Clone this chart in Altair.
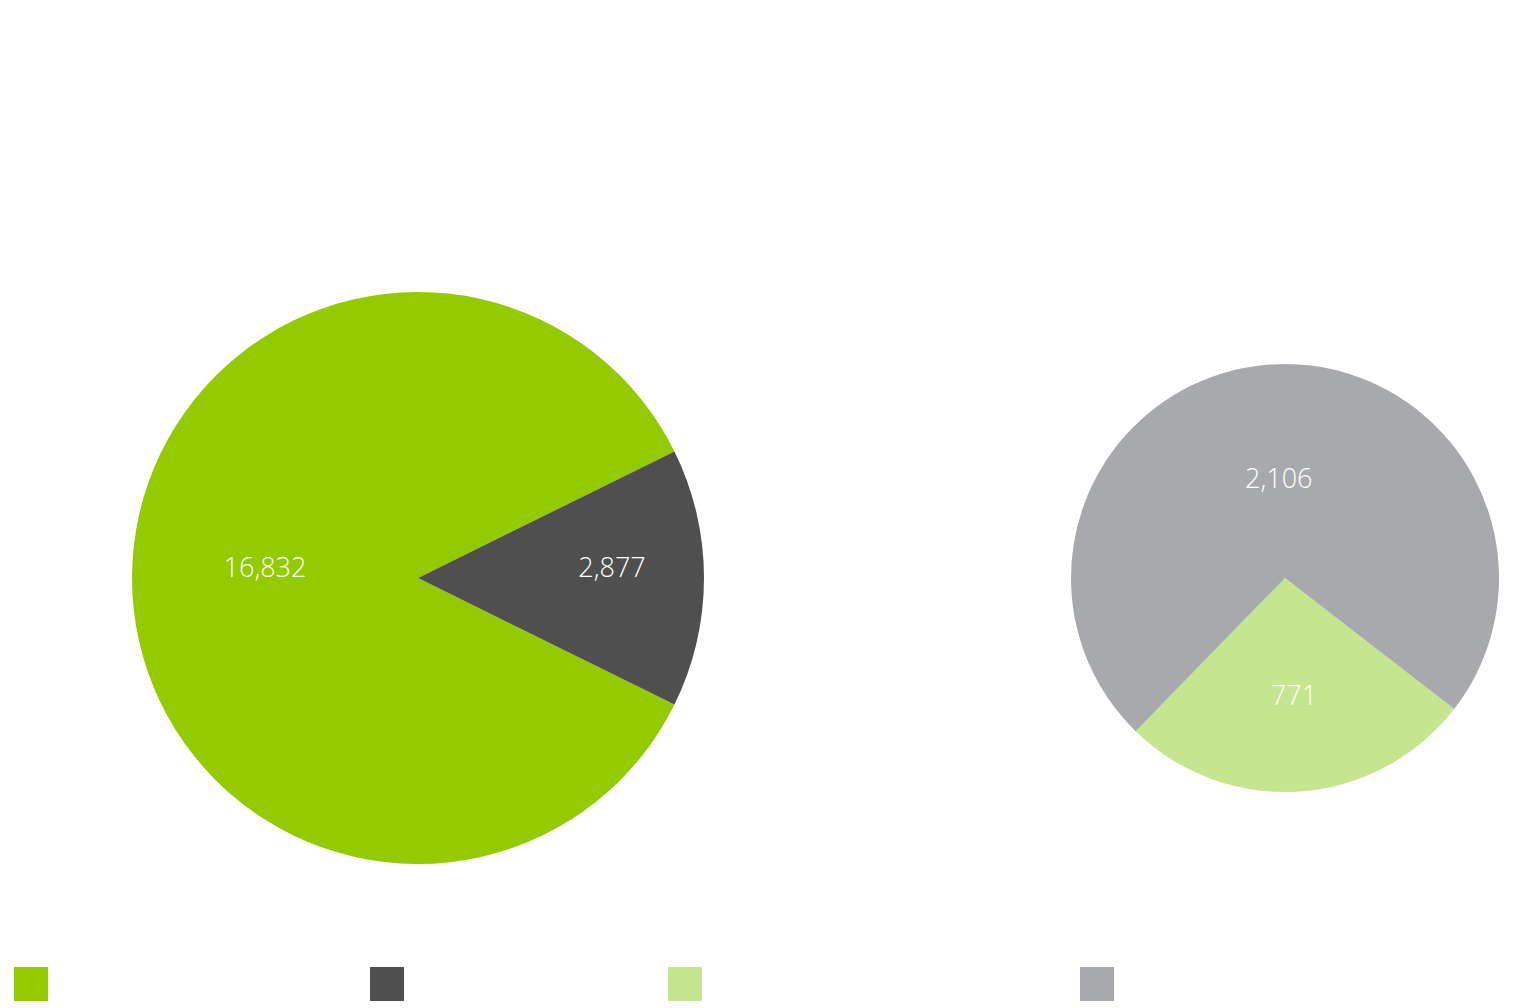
import math
import altair as alt
import pandas as pd

# Left pie
left_cats = ["Group A", "Group B"]
left_vals = [16832, 2877]
# Right pie
right_cats = ["Group C", "Group D"]
right_vals = [771, 2106]

all_cats = left_cats + right_cats
all_colors = ["#93ca00", "#4f4f4f", "#c5e58f", "#a8a9ac"]

color = alt.Color("cat:N", scale=alt.Scale(domain=all_cats, range=all_colors), legend=None)
font = "Open Sans"


def pie(cats, vals, cx, cy, radius, start, label_r):
    df = pd.DataFrame({"cat": cats, "val": vals, "idx": list(range(len(cats)))})
    total = float(sum(vals))
    scale = alt.Scale(domain=[0, total], range=[start, start + 2 * math.pi])
    # cumulative start / end / middle of each slice, in drawing order
    base = alt.Chart(df).transform_window(
        cum_end="sum(val)", sort=[alt.SortField("idx")],
        frame=[None, 0],
    ).transform_calculate(
        cum_start="datum.cum_end - datum.val",
        mid="datum.cum_end - datum.val / 2",
    )
    arcs = base.mark_arc(radius=radius, stroke=None).encode(
        theta=alt.Theta("cum_start:Q", scale=scale),
        theta2="cum_end:Q",
        color=color,
        x=alt.value(cx),
        y=alt.value(cy),
    )
    r_expr = " : ".join(
        f"datum.cat === '{c}' ? {r}" for c, r in zip(cats[:-1], label_r[:-1])
    ) + f" : {label_r[-1]}"
    labels = base.transform_calculate(r=r_expr).mark_text(
        font=font, fontSize=27, fontWeight=300, color="white",
        baseline="middle", align="center", dy=-9,
    ).encode(
        theta=alt.Theta("mid:Q", scale=scale),
        radius=alt.Radius("r:Q", scale=None),
        text=alt.Text("val:Q", format=","),
        x=alt.value(cx),
        y=alt.value(cy),
    )
    return alt.layer(arcs, labels)


# left pie: small slice centred on the right-hand side
share_b = left_vals[1] / sum(left_vals)
left_start = math.pi / 2 + share_b * math.pi
left = pie(left_cats, left_vals, 418, 578, 286, left_start, [153, 194])

# right pie: small slice centred near the bottom
share_c = right_vals[0] / sum(right_vals)
mid_c = math.radians(176)
right_start = mid_c - share_c * math.pi
right = pie(right_cats, right_vals, 1285, 578, 214, right_start, [128, 89])

# legend swatches along the bottom
legend_df = pd.DataFrame({"cat": all_cats, "idx": list(range(len(all_cats)))})
legend = alt.Chart(legend_df).mark_square(size=34 * 34, opacity=1, filled=True).encode(
    x=alt.X("idx:Q", scale=alt.Scale(domain=[0, 1, 2, 3], range=[31, 387, 685, 1097]),
            axis=None),
    y=alt.value(984),
    color=color,
)

chart = alt.layer(left, right, legend).resolve_scale(
    theta="independent", x="independent"
).properties(
    width=1514, height=1008, autosize=alt.AutoSizeParams(type="none"), padding=0,
    background="white",
).configure_view(stroke=None)

chart.save("out.html", embed_options={"renderer": "svg", "actions": False})
